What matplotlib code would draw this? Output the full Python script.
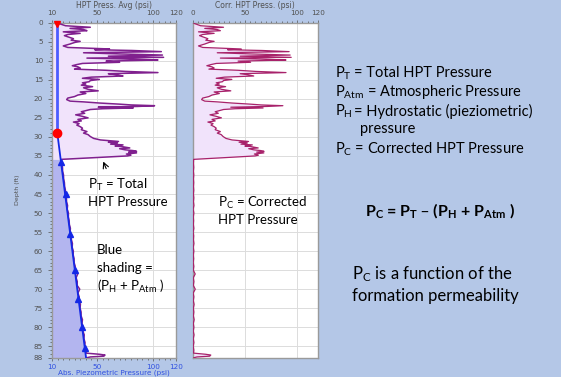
import numpy as np
import matplotlib
matplotlib.use("Agg")
import matplotlib.pyplot as plt
from matplotlib.ticker import MultipleLocator, FixedLocator

# HPT log, 0-36 ft: total pressure (psi) vs depth (ft)
upper_depth = [0.0, 0.3, 0.8, 1.2, 1.5, 1.8, 2.1, 2.4, 2.8, 3.1, 3.4, 3.8, 4.2, 4.6,
               4.9, 5.2, 5.6, 6.1, 6.5, 6.9, 7.1, 7.3, 7.6, 7.9, 8.2, 8.5, 8.8, 9.1,
               9.3, 9.6, 9.8, 10.1, 10.4, 10.7, 11.0, 11.3, 11.6, 11.9, 12.2, 12.5,
               12.8, 13.1, 13.4, 13.7, 14.0, 14.3, 14.6, 14.9, 15.2, 15.5, 15.8, 16.1,
               16.4, 16.8, 17.1, 17.5, 17.9, 18.2, 18.6, 19.0, 19.4, 19.8, 20.2, 20.6,
               20.8, 21.1, 21.4, 21.6, 21.8, 22.0, 22.2, 22.4, 22.6, 22.8, 23.1, 23.4,
               23.8, 24.2, 24.6, 25.0, 25.4, 25.8, 26.1, 26.5, 26.9, 27.3, 27.7, 28.1,
               28.6, 29.0, 29.4, 29.9, 30.4, 30.8, 31.2, 31.4, 31.6, 31.9, 32.1, 32.4,
               32.5, 32.9, 33.1, 33.4, 33.6, 33.8, 34.0, 34.2, 34.5, 34.8, 35.0, 35.9]
upper_total = [14.7, 17, 22, 44, 26, 38, 41, 20, 35, 24, 21, 25, 29, 27,
               35, 30, 26, 20, 24, 61, 48, 81, 107, 38, 70, 108, 60, 109,
               41, 85, 104, 58, 70, 37, 32, 28, 33, 35, 30, 58,
               75, 104, 60, 68, 73, 45, 37, 52, 44, 43, 37, 40,
               36, 46, 38, 42, 51, 35, 40, 33, 30, 24, 23, 26,
               38, 52, 70, 80, 101, 86, 51, 82, 55, 44, 40, 36,
               39, 31, 37, 42, 33, 36, 29, 34, 32, 35, 37, 36,
               41, 38, 42, 44, 47, 53, 69, 60, 68, 62, 73, 66,
               71, 79, 70, 75, 82, 85, 78, 85, 76, 80, 77, 18.3]

# HPT log, 36-88 ft (tracks the hydrostatic line)
lower_depth = [36, 37, 38, 39, 40, 41, 42, 43, 44, 45, 46, 47, 48, 49, 50, 51, 52,
               53, 54, 55, 56, 57, 58, 59, 60, 61, 62, 63, 64, 65, 66, 67, 68, 69,
               70, 71, 72, 73, 74, 75, 76, 77, 78, 79, 80, 81, 82, 83, 84, 85, 86,
               86.8, 87.1, 87.3, 87.6, 87.8, 88]
lower_total = [18.3, 18.6, 19.3, 19.4, 20.2, 20.3, 21.0, 21.2, 21.9, 22.0, 22.8,
               22.9, 23.8, 23.5, 24.6, 24.5, 25.2, 25.4, 26.3, 26.1, 27.0, 27.2,
               28.1, 27.9, 28.9, 28.8, 29.6, 29.6, 30.6, 30.5, 32.8, 31.4, 32.4,
               32.3, 34.6, 33.0, 34.1, 34.0, 35.2, 34.9, 35.8, 35.8, 37.0, 36.6,
               37.6, 37.4, 38.6, 38.3, 39.3, 39.1, 40.1, 40.2, 52, 57, 56, 44, 41]

# hydrostatic + atmospheric pressure line
hydro_depth = [0, 29, 88]
hydro_psi = [14.7, 14.7, 40.2]

# dissipation test results
diss_depth = [36.5, 45, 55.5, 65, 72.5, 80, 85.5]
diss_psi = [18.0, 22.0, 26.3, 30.2, 33.5, 36.8, 39.2]

water_table_depth = 29
water_table_psi = 14.7

depth_ticks = list(range(0, 90, 5)) + [88]
left_xticks = [10, 50, 100, 120]
right_xticks = [0, 50, 100, 120]

depth = np.array(upper_depth + lower_depth, dtype=float)
total = np.array(upper_total + lower_total, dtype=float)
hydro = np.interp(depth, hydro_depth, hydro_psi)
corrected = np.clip(total - hydro, 0, None)

BG = "#b4c7e7"
LAV = "#f1e3fb"
TICK_C = "#505050"
PIEZO_C = "#3050e0"

plt.rcParams["mathtext.default"] = "regular"

fig = plt.figure(figsize=(5.61, 3.77), dpi=100, facecolor=BG)
ax1 = fig.add_axes([0.0927, 0.0512, 0.2210, 0.8886])
ax2 = fig.add_axes([0.3440, 0.0512, 0.2228, 0.8886])

for ax in (ax1, ax2):
    ax.set_ylim(88, 0)
    ax.set_facecolor("white")
    for s in ax.spines.values():
        s.set_color("#9a9a9a")
        s.set_linewidth(1.0)
    ax.tick_params(axis="x", which="both", direction="out", labelsize=5.2,
                   colors=TICK_C, length=2.5, width=0.5, top=True, labeltop=True,
                   pad=2)
    ax.tick_params(axis="x", which="minor", length=1.5)
    ax.xaxis.set_minor_locator(MultipleLocator(5))
    ax.yaxis.set_major_locator(FixedLocator(depth_ticks))
    ax.grid(True, which="major", color="#dcdcdc", linewidth=0.7)
    ax.set_axisbelow(True)

# left track: total pressure and hydrostatic line
ax1.set_xlim(10, 120)
ax1.xaxis.set_major_locator(FixedLocator(left_xticks))
ax1.yaxis.set_minor_locator(MultipleLocator(1))
ax1.tick_params(axis="y", which="both", labelsize=5.2, colors=TICK_C,
                length=3, width=0.5, direction="out")
ax1.tick_params(axis="y", which="minor", length=1.8)
# bottom scale is the piezometric pressure, drawn in blue
for tick in ax1.xaxis.get_major_ticks():
    tick.label1.set_color(PIEZO_C)

upper = depth <= 35.95
ax1.fill_betweenx(depth, 10, total, where=upper, color=LAV, lw=0, zorder=1)
ax1.fill_betweenx(depth, 10, hydro, where=depth >= 35.9, color="#b3b5ef", lw=0, zorder=1)
ax1.plot(total, depth, color="#80208e", lw=1.1, zorder=3)
ax1.plot(hydro_psi[:2], hydro_depth[:2], color="#4c5cff", lw=2.0, zorder=4)
ax1.plot(hydro_psi[1:], hydro_depth[1:], color="#1428e6", lw=1.3, zorder=4)
ax1.plot(diss_psi, diss_depth, ls="none", marker="^", ms=5, color="#1428e6", zorder=5)
ax1.plot([hydro_psi[0]], [0.4], ls="none", marker="v", ms=5, color="red", zorder=6,
         clip_on=False)
ax1.plot([water_table_psi], [water_table_depth], ls="none", marker="o", ms=6,
         color="red", zorder=6)

ax1.set_ylabel("Depth (ft)", fontsize=4.5, color=TICK_C, labelpad=10)

# right track: corrected pressure
ax2.set_xlim(0, 120)
ax2.xaxis.set_major_locator(FixedLocator(right_xticks))
ax2.tick_params(axis="y", which="both", left=False, labelleft=False)
ax2.tick_params(axis="x", which="both", bottom=False, labelbottom=False)
ax2.fill_betweenx(depth, 0, corrected, color=LAV, lw=0, zorder=1)
ax2.plot(corrected, depth, color="#a8226a", lw=0.9, zorder=3)

# track titles and the piezometric scale name
fig.text(114 / 561, 1 - 6 / 377, "HPT Press. Avg (psi)", fontsize=5.5, color=TICK_C,
         ha="center", va="center")
fig.text(255 / 561, 1 - 6 / 377, "Corr. HPT Press. (psi)", fontsize=5.5, color=TICK_C,
         ha="center", va="center")
fig.text(114 / 561, 1 - 372.5 / 377, "Abs. Piezometric Pressure (psi)", fontsize=5.2,
         color=PIEZO_C, ha="center", va="center")

# annotations on the tracks
font = "Lato"
fig.text(88 / 561, 1 - 185 / 377, "P$_T$ = Total", fontsize=9.5, family=font, va="center")
fig.text(88 / 561, 1 - 202 / 377, "HPT Pressure", fontsize=9.5, family=font, va="center")
ax1.annotate("", xy=(54.5, 35.8), xytext=(59, 39.0),
             arrowprops=dict(arrowstyle="->", color="black", lw=0.8))
fig.text(97 / 561, 1 - 250 / 377, "Blue", fontsize=9.5, family=font, va="center")
fig.text(97 / 561, 1 - 268 / 377, "shading =", fontsize=9.5, family=font, va="center")
fig.text(97 / 561, 1 - 286 / 377, "(P$_H$ + P$_{Atm}$ )", fontsize=9.5, family=font,
         va="center")
fig.text(218 / 561, 1 - 203 / 377, "P$_C$ = Corrected", fontsize=9.5, family=font,
         va="center")
fig.text(218 / 561, 1 - 220 / 377, "HPT Pressure", fontsize=9.5, family=font, va="center")

# definitions
fs_def = 10.5
fig.text(335 / 561, 1 - 73 / 377, "P$_T$", fontsize=fs_def, family=font, va="center")
fig.text(354 / 561, 1 - 73 / 377, "= Total HPT Pressure", fontsize=fs_def, family=font,
         va="center")
fig.text(335 / 561, 1 - 92 / 377, "P$_{Atm}$ = Atmospheric Pressure", fontsize=fs_def,
         family=font, va="center")
fig.text(335 / 561, 1 - 111 / 377, "P$_H$", fontsize=fs_def, family=font, va="center")
fig.text(354 / 561, 1 - 111 / 377, "= Hydrostatic (pieziometric)", fontsize=fs_def,
         family=font, va="center")
fig.text(360 / 561, 1 - 129 / 377, "pressure", fontsize=fs_def, family=font, va="center")
fig.text(335 / 561, 1 - 149 / 377, "P$_C$ = Corrected HPT Pressure", fontsize=fs_def,
         family=font, va="center")

fig.text(440 / 561, 1 - 211 / 377, "P$_C$ = P$_T$ \u2013 (P$_H$ + P$_{Atm}$ )",
         fontsize=11.5, family=font, weight="bold", ha="center", va="center")
fig.text(352 / 561, 1 - 274 / 377, "P$_C$ is a function of the", fontsize=12,
         family=font, va="center")
fig.text(352 / 561, 1 - 296 / 377, "formation permeability", fontsize=12,
         family=font, va="center")

fig.savefig("out.png", dpi=100, facecolor=BG)
